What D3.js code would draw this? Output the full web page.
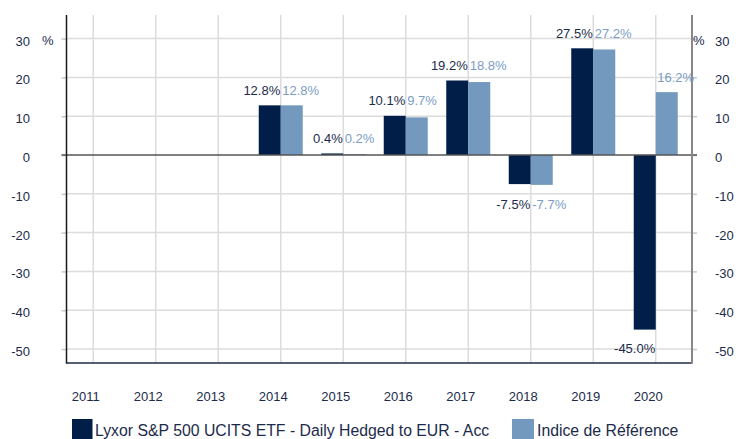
<!DOCTYPE html>
<html><head><meta charset="utf-8">
<script src="https://cdn.jsdelivr.net/npm/d3@7"></script>
<style>
body{margin:0;background:#fff;}
svg{display:block;font-family:"Liberation Sans",Arial,sans-serif;}
</style></head>
<body><svg id="c" width="736" height="439"></svg>
<script>
const years = ["2011","2012","2013","2014","2015","2016","2017","2018","2019","2020"];
const fundValues = [null,null,null,12.8,0.4,10.1,19.2,-7.5,27.5,-45.0];
const indexValues = [null,null,null,12.8,0.2,9.7,18.8,-7.7,27.2,16.2];
const seriesNames = ["Lyxor S&P 500 UCITS ETF - Daily Hedged to EUR - Acc","Indice de Référence"];
const yTicks = [-50,-40,-30,-20,-10,0,10,20,30];

const colDark = "#001e48", colLight = "#7399bf";
const txtDark = "#1c2b4b", txtLight = "#7b9dc3";

const svg = d3.select("#c");
const L = 66.5, R = 692, T = 15, B = 363;
const x = d3.scaleBand().domain(years).range([62, 687]);
const y = d3.scaleLinear().domain([-50, 30]).range([349, 38.6]);
const x1 = d3.scaleBand().domain(["fund","index"]).range([x.bandwidth()/2 - 22, x.bandwidth()/2 + 22]);

// horizontal gridlines
svg.append("g").selectAll("line").data(yTicks.filter(d=>d!==0)).join("line")
  .attr("x1", L).attr("x2", R).attr("y1", d=>y(d)).attr("y2", d=>y(d))
  .attr("stroke", "#dcdcdc").attr("stroke-width", 1.5);
// vertical gridlines
svg.append("g").selectAll("line").data(years).join("line")
  .attr("x1", d=>x(d)+x.bandwidth()/2).attr("x2", d=>x(d)+x.bandwidth()/2)
  .attr("y1", T).attr("y2", B)
  .attr("stroke", "#dcdcdc").attr("stroke-width", 1.5);

// axes
const fs = 13;
const tf = d => String(d);
const left = svg.append("g").attr("transform", `translate(${L},0)`)
  .call(d3.axisLeft(y).tickValues(yTicks).tickFormat(tf).tickSize(5).tickPadding(31.5));
const right = svg.append("g").attr("transform", `translate(${R},0)`)
  .call(d3.axisRight(y).tickValues(yTicks).tickFormat(tf).tickSize(5).tickPadding(18));
[left, right].forEach(g => {
  g.select(".domain").remove();
  g.selectAll(".tick line").attr("stroke", "#c8c8c8").attr("stroke-width", 1.5);
  g.selectAll(".tick text").attr("fill", txtDark).attr("font-size", fs).attr("dy", "0.5em")
   .attr("font-family", "Liberation Sans, Arial, sans-serif");
});
const bottom = svg.append("g").attr("transform", `translate(0,${B})`)
  .call(d3.axisBottom(x).tickSize(0).tickPadding(28.8));
bottom.select(".domain").remove();
bottom.selectAll(".tick text").attr("fill", txtDark).attr("font-size", fs).attr("dx", -7.5)
  .attr("font-family", "Liberation Sans, Arial, sans-serif");

// % units
svg.append("text").attr("x", 42).attr("y", y(30)+6.4).attr("font-size", fs).attr("fill", txtDark).text("%");
svg.append("text").attr("x", 693).attr("y", y(30)+6.4).attr("font-size", fs).attr("fill", txtDark).text("%");

// data
const rows = years.map((yr,i)=>({year:yr, fund:fundValues[i], index:indexValues[i]}));

// bars
const gb = svg.append("g");
rows.forEach(r => {
  [["fund", colDark],["index", colLight]].forEach(([k,c]) => {
    const v = r[k];
    if (v === null) return;
    gb.append("rect")
      .attr("x", x(r.year) + x1(k)).attr("width", x1.bandwidth())
      .attr("y", y(Math.max(0, v))).attr("height", Math.abs(y(v) - y(0)))
      .attr("fill", c);
  });
});

// zero line
svg.append("line").attr("x1", L-5).attr("x2", R+5).attr("y1", y(0)).attr("y2", y(0))
  .attr("stroke", "#555").attr("stroke-width", 1.5);

// axis lines
svg.append("line").attr("x1", L).attr("x2", L).attr("y1", T).attr("y2", B+0.75)
  .attr("stroke", "#1a1a1a").attr("stroke-width", 1.5);
svg.append("line").attr("x1", L).attr("x2", R).attr("y1", B).attr("y2", B)
  .attr("stroke", txtDark).attr("stroke-width", 1.5);
svg.append("line").attr("x1", R).attr("x2", R).attr("y1", T).attr("y2", B+0.75)
  .attr("stroke", "#888").attr("stroke-width", 2);

// labels
const gl = svg.append("g").attr("font-size", fs);
rows.forEach(r => {
  if (r.fund === null) return;
  const cx = x(r.year) + x.bandwidth()/2;
  const pos = [r.fund, r.index].filter(v=>v>=0), neg = [r.fund, r.index].filter(v=>v<0);
  const posY = pos.length ? y(d3.max(pos)) - 10.5 : 0;
  const negY = neg.length ? y(d3.min(neg)) + 23.8 : 0;
  const fmt = v => v.toFixed(1) + "%";
  gl.append("text").attr("x", cx - 0.5).attr("y", r.fund >= 0 ? posY : negY)
    .attr("text-anchor", "end").attr("fill", txtDark).text(fmt(r.fund));
  gl.append("text").attr("x", cx + 1.5).attr("y", r.index >= 0 ? posY : negY)
    .attr("text-anchor", "start").attr("fill", txtLight).text(fmt(r.index));
});

// legend
const lg = svg.append("g").attr("font-size", 15.8);
lg.append("rect").attr("x", 72).attr("y", 419).attr("width", 20.5).attr("height", 20).attr("fill", colDark);
lg.append("text").attr("x", 95).attr("y", 435.5).attr("fill", txtDark).text(seriesNames[0]);
lg.append("rect").attr("x", 512).attr("y", 419).attr("width", 22).attr("height", 20).attr("fill", colLight);
lg.append("text").attr("x", 537).attr("y", 435.5).attr("fill", txtDark).text(seriesNames[1]);
</script></body></html>
